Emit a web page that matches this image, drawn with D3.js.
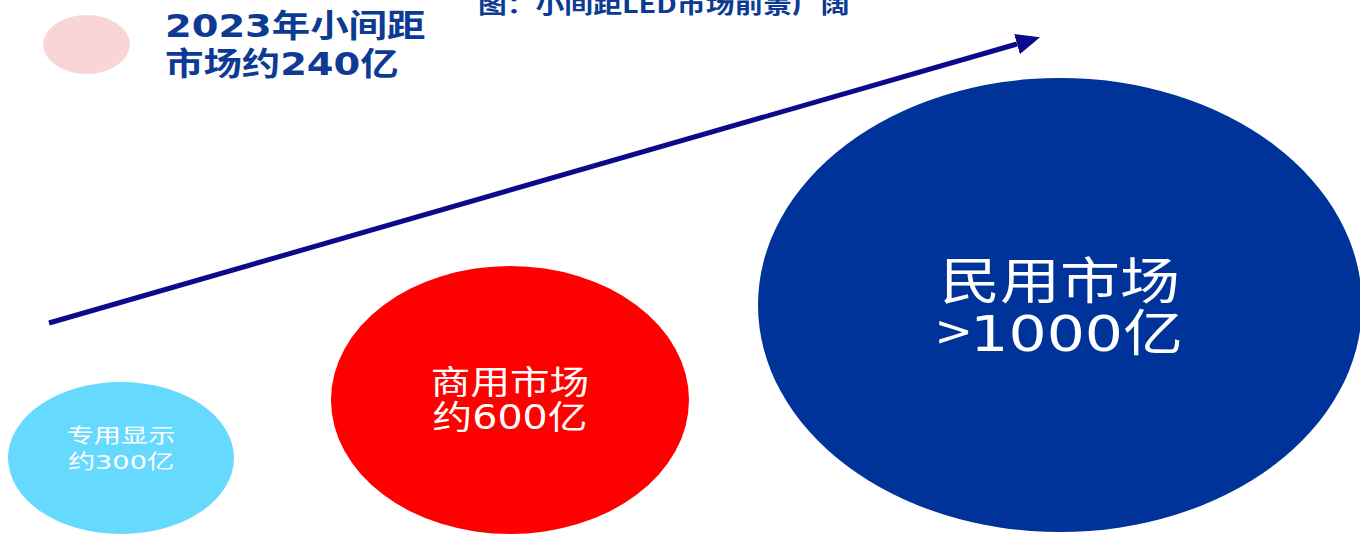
<!DOCTYPE html>
<html>
<head>
<meta charset="utf-8">
<script src="https://cdn.jsdelivr.net/npm/d3@7/dist/d3.min.js"></script>
<style>
  html, body { margin: 0; padding: 0; background: #fff; }
  svg { display: block; }
  text { font-family: "Noto Sans CJK SC", "Noto Sans", sans-serif; }
  tspan.num { font-family: "DejaVu Sans", "Noto Sans CJK SC", sans-serif; }
</style>
</head>
<body>
<svg id="chart" width="1360" height="534"></svg>
<script>
// Market segments (亿元)
const segments = ["专用显示", "商用市场", "民用市场"];
const segmentValues = [300, 600, 1000];
const valueLabels = ["约300亿", "约600亿", ">1000亿"];
const segmentColors = ["#66d9ff", "#ff0000", "#003399"];

// 2023 overall market
const legendLines = ["2023年小间距", "市场约240亿"];
const legendValue = 240;

const titleText = "图：小间距LED市场前景广阔";

const svg = d3.select("#chart");

// Write a label as runs, setting digits in a wider face
function writeRuns(sel, str) {
  str.split(/(\d+)/).filter(s => s.length).forEach(run => {
    sel.append("tspan")
      .attr("class", /^\d+$/.test(run) ? "num" : null)
      .text(run);
  });
}

// Bubble placement and size driven by segment value
const cx = d3.scaleLinear().domain(segmentValues).range([121, 510, 1060]);
const cy = d3.scaleLinear().domain(segmentValues).range([458, 400, 305]);
const rx = d3.scaleLinear().domain(segmentValues).range([113, 179, 302]);
const ry = d3.scaleLinear().domain(segmentValues).range([76, 134, 227]);
const fontSize = d3.scaleLinear().domain(segmentValues).range([20, 33, 50]);
const stretch = d3.scaleLinear().domain(segmentValues).range([1.36, 1.2, 1.2]);
const labelY = d3.scaleLinear().domain(segmentValues).range([443, 394, 299]);
const labelGap = d3.scaleLinear().domain(segmentValues).range([26, 35, 52]);

const data = segments.map((s, i) => ({
  name: s, value: segmentValues[i], label: valueLabels[i], color: segmentColors[i]
}));

// Growth arrow
const arrowColor = "#0a0a8a";
svg.append("defs").append("marker")
  .attr("id", "head")
  .attr("viewBox", "0 0 24 21")
  .attr("refX", 0).attr("refY", 10.5)
  .attr("markerUnits", "userSpaceOnUse")
  .attr("markerWidth", 24).attr("markerHeight", 21)
  .attr("orient", "auto")
  .append("path")
  .attr("d", "M0,0 L24,10.5 L0,21 Z")
  .attr("fill", arrowColor);

svg.append("line")
  .attr("x1", 49).attr("y1", 323)
  .attr("x2", 1017).attr("y2", 44)
  .attr("stroke", arrowColor)
  .attr("stroke-width", 5)
  .attr("marker-end", "url(#head)");

// Segment bubbles
const bubbles = svg.selectAll("g.bubble").data(data).join("g").attr("class", "bubble");

bubbles.append("ellipse")
  .attr("cx", d => cx(d.value))
  .attr("cy", d => cy(d.value))
  .attr("rx", d => rx(d.value))
  .attr("ry", d => ry(d.value))
  .attr("fill", d => d.color);

bubbles.append("g")
  .attr("transform", d => `translate(${cx(d.value)},${labelY(d.value)}) scale(${stretch(d.value)},1)`)
  .selectAll("text")
  .data(d => [d.name, d.label].map((t, i) => ({ t, i, d })))
  .join("text")
  .attr("text-anchor", "middle")
  .attr("y", e => e.i * labelGap(e.d.value))
  .attr("font-size", e => fontSize(e.d.value))
  .attr("fill", "#fff")
  .each(function (e) { writeRuns(d3.select(this), e.t); });

// 2023 market legend bubble
const legendR = d3.scaleSqrt().domain([0, legendValue]).range([0, 29.5]);
svg.append("ellipse")
  .attr("cx", 86.5).attr("cy", 44.5)
  .attr("rx", legendR(legendValue) * 1.47)
  .attr("ry", legendR(legendValue))
  .attr("fill", "#f9d5d7");

svg.append("g")
  .attr("transform", "translate(165,37) scale(1.2,1)")
  .selectAll("text")
  .data(legendLines)
  .join("text")
  .attr("y", (d, i) => i * 38)
  .attr("font-size", 32)
  .attr("font-weight", "bold")
  .attr("fill", "#0d3b94")
  .each(function (d) { writeRuns(d3.select(this), d); });

// Title, partly above the top edge
svg.append("g")
  .attr("transform", "translate(478,13) scale(1.2,1)")
  .append("text")
  .attr("font-size", 24)
  .attr("font-weight", "bold")
  .attr("fill", "#0d3b94")
  .text(titleText);
</script>
</body>
</html>
